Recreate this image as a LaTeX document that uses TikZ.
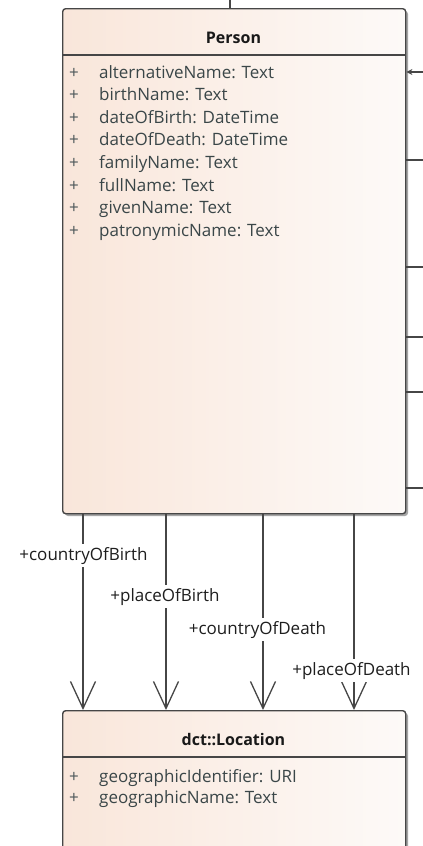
\documentclass[tikz,border=0pt]{standalone}
\usepackage{fontspec}
\setmainfont{Open Sans}
\usetikzlibrary{arrows.meta}
\definecolor{umlfillL}{RGB}{249,230,218}
\definecolor{umlfillR}{RGB}{253,250,248}
\definecolor{umlline}{RGB}{70,70,70}
\definecolor{attrtext}{RGB}{58,70,72}
\definecolor{labeltext}{RGB}{30,30,30}
\begin{document}
\begin{tikzpicture}[x=1pt,y=-1pt,
  classbox/.style={draw=umlline, line width=1.4pt, rounded corners=3pt,
    left color=umlfillL, right color=umlfillR, anchor=north west,
    inner sep=0pt, minimum width=343pt},
  shadowbox/.style={fill=black!35, rounded corners=3pt},
  sepline/.style={draw=umlline, line width=1.3pt},
  classtitle/.style={anchor=base, inner sep=0pt, font=\fontsize{16}{19}\selectfont\bfseries, text=black!90},
  attr/.style={anchor=base west, inner sep=0pt, font=\fontsize{17}{20}\selectfont, text=attrtext},
  vis/.style={anchor=base west, inner sep=0pt, font=\fontsize{17}{20}\selectfont, text=attrtext!90},
  assoc/.style={draw=umlline, line width=1.3pt, -{Straight Barb[length=27pt, width=25pt]}},
  stub/.style={draw=umlline, line width=1.3pt},
  rolelabel/.style={anchor=base, fill=white, inner xsep=1pt, inner ysep=3pt,
    font=\fontsize{17}{20}\selectfont, text=labeltext}]
\clip (0,0) rectangle (423,846);
\fill[white] (0,0) rectangle (423,846);

% shadows
\fill[shadowbox] (65,11) rectangle (408,516);
\fill[shadowbox] (65,713) rectangle (408,900);

% Person class
\node[classbox, minimum height=505pt] (person) at (62,8) {};
\draw[sepline] ([yshift=-47pt]person.north west) -- ([yshift=-47pt]person.north east);
\node[classtitle] (ptitle) at (233.5,43) {Person};
\foreach \n/\txt [count=\i from 0] in {
  a/alternativeName: Text, b/birthName: Text, c/dateOfBirth: DateTime,
  d/dateOfDeath: DateTime, e/familyName: Text, f/fullName: Text,
  g/givenName: Text, h/patronymicName: Text} {
  \node[vis] (pv\n) at (69,78+22.6*\i) {+};
  \node[attr] (pa\n) at (99,78+22.6*\i) {\txt};
}

% dct::Location class
\node[classbox, minimum height=190pt] (location) at (62,710) {};
\draw[sepline] ([yshift=-47pt]location.north west) -- ([yshift=-47pt]location.north east);
\node[classtitle] (ltitle) at (233.5,745) {dct::Location};
\node[vis] (lv1) at (69,782) {+};
\node[attr] (la1) at (99,782) {geographicIdentifier: URI};
\node[vis] (lv2) at (69,803) {+};
\node[attr] (la2) at (99,803) {geographicName: Text};

% connector columns
\coordinate (c1) at (83,0);
\coordinate (c2) at (166,0);
\coordinate (c3) at (263,0);
\coordinate (c4) at (354,0);

\draw[assoc] (person.south -| c1) -- (location.north -| c1);
\draw[assoc] (person.south -| c2) -- (location.north -| c2);
\draw[assoc] (person.south -| c3) -- (location.north -| c3);
\draw[assoc] (person.south -| c4) -- (location.north -| c4);

\node[rolelabel] (l1) at (83.5,560) {+countryOfBirth};
\node[rolelabel] (l2) at (165,601) {+placeOfBirth};
\node[rolelabel] (l3) at (257.5,634) {+countryOfDeath};
\node[rolelabel] (l4) at (351.5,675) {+placeOfDeath};

% connectors leaving the picture
\coordinate (t0) at (230,0);
\draw[stub] (t0) -- (t0 |- person.north);
\coordinate (r0) at (423,72);
\draw[stub, {Stealth[length=6pt, width=6pt]}-] (r0 -| person.east) -- (r0);
\foreach \y [count=\k] in {160,267,337,392,488} {
  \coordinate (r\k) at (423,\y);
  \draw[stub] (r\k -| person.east) -- (r\k);
}
\end{tikzpicture}
\end{document}
